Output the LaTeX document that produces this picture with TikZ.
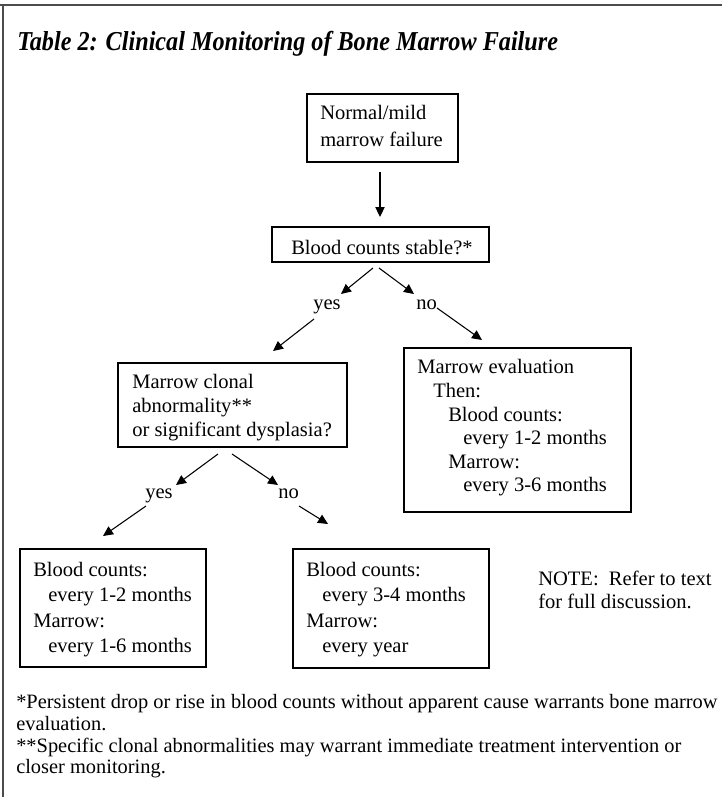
\documentclass[tikz,border=0pt]{standalone}
\usepackage{fontspec}
\setmainfont{Liberation Serif}
\newfontfamily\titlefont[FakeStretch=0.885]{Liberation Serif}
\usetikzlibrary{arrows.meta,fit}
\begin{document}
\begin{tikzpicture}[x=0.75pt,y=-0.75pt,
  box/.style={draw=black,line width=0.9pt,inner sep=0pt,fit={#1}},
  txt/.style={anchor=base west,inner sep=0pt,font=\fontsize{15.4}{17.8}\selectfont},
  lbl/.style={anchor=base west,inner sep=0pt,font=\fontsize{15.4}{17.8}\selectfont},
  foot/.style={anchor=base west,inner sep=0pt,font=\fontsize{15.3}{17.8}\selectfont},
  arr/.style={line width=0.8pt,-{Triangle[length=7.5pt,width=7pt]}},
  frame/.style={draw=black!70}]
\useasboundingbox (0,0) rectangle (722,797);
% outer frame (top and left)
\draw[frame,line width=1.5pt] (0,5) -- (722,5);
\draw[frame,line width=1pt] (3,5) -- (3,797);
% title
\node[anchor=base west,inner sep=0pt,font=\fontsize{20.5}{24}\titlefont\bfseries\itshape] (title) at (17,50) {Table 2: Clinical Monitoring of Bone Marrow Failure};
% box 1
\node[box={(307,94) (458,162)}] (b1) {};
\node[txt] (b1l1) at (320,119) {Normal/mild};
\node[txt] (b1l2) at (320,146) {marrow failure};
\coordinate (a0s) at (380,172);
\coordinate (a0e) at (380,217);
\draw[arr] (a0s) -- (a0e);
% box 2
\node[box={(272,227) (489,262)}] (b2) {};
\node[txt] (b2l1) at (291,254) {Blood counts stable?*};
% arrows from box 2
\coordinate (a1s) at (373,268); \coordinate (a1e) at (341,294);
\coordinate (a2s) at (379,268); \coordinate (a2e) at (414,294);
\draw[arr] (a1s) -- (a1e);
\draw[arr] (a2s) -- (a2e);
\node[lbl] (yes1) at (313,309) {yes};
\node[lbl] (no1) at (416,309) {no};
\coordinate (a3s) at (314,319); \coordinate (a3e) at (273,351);
\coordinate (a4s) at (437,308); \coordinate (a4e) at (482,340);
\draw[arr] (a3s) -- (a3e);
\draw[arr] (a4s) -- (a4e);
% box 3
\node[box={(118,363) (347,447)}] (b3) {};
\node[txt] (b3l1) at (132,388) {Marrow clonal};
\node[txt] (b3l2) at (132,412) {abnormality**};
\node[txt] (b3l3) at (132,436) {or significant dysplasia?};
% box 4
\node[box={(404,348) (631,512)}] (b4) {};
\node[txt] (b4l1) at (417,373) {Marrow evaluation};
\node[txt] (b4l2) at (433,397) {Then:};
\node[txt] (b4l3) at (448,421) {Blood counts:};
\node[txt] (b4l4) at (463,444) {every 1-2 months};
\node[txt] (b4l5) at (448,468) {Marrow:};
\node[txt] (b4l6) at (463,491) {every 3-6 months};
% arrows from box 3
\coordinate (a5s) at (218,454); \coordinate (a5e) at (176,485);
\coordinate (a6s) at (232,454); \coordinate (a6e) at (278,485);
\draw[arr] (a5s) -- (a5e);
\draw[arr] (a6s) -- (a6e);
\node[lbl] (yes2) at (145,498) {yes};
\node[lbl] (no2) at (278,498) {no};
\coordinate (a7s) at (146,506); \coordinate (a7e) at (103,536);
\coordinate (a8s) at (299,506); \coordinate (a8e) at (328,524);
\draw[arr] (a7s) -- (a7e);
\draw[arr] (a8s) -- (a8e);
% box 5
\node[box={(20,549) (206,667)}] (b5) {};
\node[txt] (b5l1) at (33,576) {Blood counts:};
\node[txt] (b5l2) at (48,601) {every 1-2 months};
\node[txt] (b5l3) at (33,627) {Marrow:};
\node[txt] (b5l4) at (48,652) {every 1-6 months};
% box 6
\node[box={(293,549) (489,668)}] (b6) {};
\node[txt] (b6l1) at (306,576) {Blood counts:};
\node[txt] (b6l2) at (322,601) {every 3-4 months};
\node[txt] (b6l3) at (306,627) {Marrow:};
\node[txt] (b6l4) at (322,652) {every year};
% note
\node[txt] (note1) at (538,585) {NOTE:\ \ Refer to text};
\node[txt] (note2) at (538,608) {for full discussion.};
% footnotes
\node[foot] (f1) at (16,708) {*Persistent drop or rise in blood counts without apparent cause warrants bone marrow};
\node[foot] (f2) at (16,730) {evaluation.};
\node[foot] (f3) at (16,752) {**Specific clonal abnormalities may warrant immediate treatment intervention or};
\node[foot] (f4) at (16,773) {closer monitoring.};
\end{tikzpicture}
\end{document}
